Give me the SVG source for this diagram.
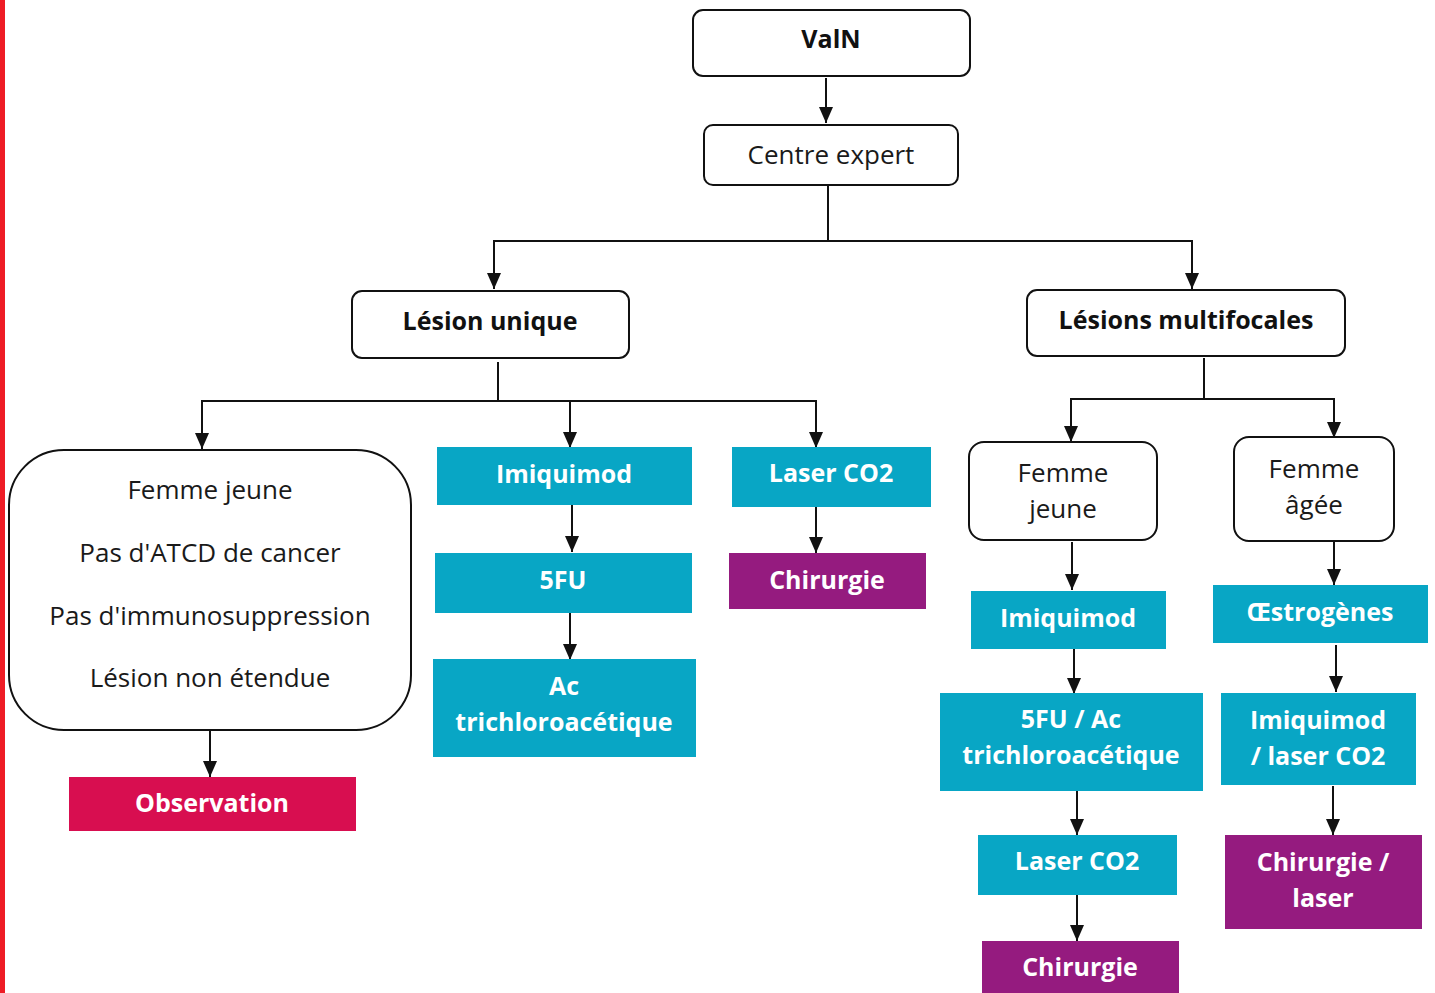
<svg xmlns="http://www.w3.org/2000/svg" width="1435" height="993" viewBox="0 0 1435 993">
  <style>
    .box { fill: #ffffff; stroke: #111111; stroke-width: 2; }
    .teal { fill: #08A6C5; }
    .purple { fill: #951B7F; }
    .pink { fill: #D80E50; }
    .t { font-family: "Open Sans", "Liberation Sans", sans-serif; font-size: 26px; text-anchor: middle; fill: #1a1a1a; }
    .b { font-size: 25px; font-weight: bold; fill: #111111; }
    .w { font-family: "Open Sans", "Liberation Sans", sans-serif; font-size: 25px; font-weight: bold; text-anchor: middle; fill: #ffffff; }
    .line { fill: none; stroke: #111111; stroke-width: 2; }
    .arrow { fill: none; stroke: #111111; stroke-width: 2; marker-end: url(#head); }
  </style>
  <defs>
    <marker id="head" markerUnits="userSpaceOnUse" markerWidth="16" markerHeight="14" refX="16" refY="7" orient="auto" viewBox="0 0 16 14">
      <path d="M0,0 L16,7 L0,14 Z" fill="#111111"/>
    </marker>
  </defs>

  <rect width="1435" height="993" fill="#ffffff"/>
  <!-- left accent bar -->
  <rect x="0" y="0" width="5" height="993" fill="#EE1C25"/>

  <!-- connectors -->
  <g id="connectors">
    <line class="arrow" x1="826" y1="78" x2="826" y2="123"/>
    <line class="line" x1="828" y1="185" x2="828" y2="241"/>
    <line class="line" x1="493" y1="241" x2="1193" y2="241"/>
    <line class="arrow" x1="494" y1="241" x2="494" y2="289"/>
    <line class="arrow" x1="1192" y1="241" x2="1192" y2="289"/>

    <line class="line" x1="498" y1="362" x2="498" y2="401"/>
    <line class="line" x1="201" y1="401" x2="817" y2="401"/>
    <line class="arrow" x1="202" y1="401" x2="202" y2="449"/>
    <line class="arrow" x1="570" y1="401" x2="570" y2="448"/>
    <line class="arrow" x1="816" y1="401" x2="816" y2="448"/>

    <line class="arrow" x1="210" y1="731" x2="210" y2="777"/>
    <line class="arrow" x1="572" y1="503" x2="572" y2="552"/>
    <line class="arrow" x1="570" y1="613" x2="570" y2="660"/>
    <line class="arrow" x1="816" y1="506" x2="816" y2="553"/>

    <line class="line" x1="1204" y1="358" x2="1204" y2="399"/>
    <line class="line" x1="1070" y1="399" x2="1335" y2="399"/>
    <line class="arrow" x1="1071" y1="399" x2="1071" y2="442"/>
    <line class="arrow" x1="1334" y1="399" x2="1334" y2="438"/>

    <line class="arrow" x1="1072" y1="542" x2="1072" y2="590"/>
    <line class="arrow" x1="1074" y1="648" x2="1074" y2="694"/>
    <line class="arrow" x1="1077" y1="787" x2="1077" y2="835"/>
    <line class="arrow" x1="1077" y1="892" x2="1077" y2="941"/>

    <line class="arrow" x1="1334" y1="537" x2="1334" y2="585"/>
    <line class="arrow" x1="1336" y1="645" x2="1336" y2="692"/>
    <line class="arrow" x1="1333" y1="786" x2="1333" y2="835"/>
  </g>

  <!-- top level -->
  <g id="valn">
    <rect class="box" x="693" y="10" width="277" height="66" rx="10"/>
    <text class="t b" x="831" y="48">ValN</text>
  </g>
  <g id="centre-expert">
    <rect class="box" x="704" y="125" width="254" height="60" rx="9"/>
    <text class="t" x="831" y="164">Centre expert</text>
  </g>

  <!-- single lesion branch -->
  <g id="lesion-unique">
    <rect class="box" x="352" y="291" width="277" height="67" rx="10"/>
    <text class="t b" x="490" y="330">Lésion unique</text>
  </g>
  <g id="criteres">
    <rect class="box" x="9" y="450" width="402" height="280" rx="55"/>
    <text class="t" x="210" y="499">Femme jeune</text>
    <text class="t" x="210" y="562">Pas d'ATCD de cancer</text>
    <text class="t" x="210" y="625">Pas d'immunosuppression</text>
    <text class="t" x="210" y="687">Lésion non étendue</text>
  </g>
  <g id="observation">
    <rect class="pink" x="69" y="777" width="287" height="54"/>
    <text class="w" x="212" y="812">Observation</text>
  </g>
  <g id="imiquimod-1">
    <rect class="teal" x="437" y="447" width="255" height="58"/>
    <text class="w" x="564" y="483">Imiquimod</text>
  </g>
  <g id="fu-1">
    <rect class="teal" x="435" y="553" width="257" height="60"/>
    <text class="w" x="563" y="589">5FU</text>
  </g>
  <g id="ac-1">
    <rect class="teal" x="433" y="659" width="263" height="98"/>
    <text class="w" x="564" y="695">Ac</text>
    <text class="w" x="564" y="731">trichloroacétique</text>
  </g>
  <g id="laser-1">
    <rect class="teal" x="732" y="447" width="199" height="60"/>
    <text class="w" x="831" y="482">Laser CO2</text>
  </g>
  <g id="chirurgie-1">
    <rect class="purple" x="729" y="553" width="197" height="56"/>
    <text class="w" x="827" y="589">Chirurgie</text>
  </g>

  <!-- multifocal branch -->
  <g id="lesions-multifocales">
    <rect class="box" x="1027" y="290" width="318" height="66" rx="10"/>
    <text class="t b" x="1186" y="329">Lésions multifocales</text>
  </g>
  <g id="femme-jeune">
    <rect class="box" x="969" y="442" width="188" height="98" rx="15"/>
    <text class="t" x="1063" y="482">Femme</text>
    <text class="t" x="1063" y="518">jeune</text>
  </g>
  <g id="femme-agee">
    <rect class="box" x="1234" y="437" width="160" height="104" rx="15"/>
    <text class="t" x="1314" y="478">Femme</text>
    <text class="t" x="1314" y="514">âgée</text>
  </g>
  <g id="imiquimod-2">
    <rect class="teal" x="971" y="591" width="195" height="58"/>
    <text class="w" x="1068" y="627">Imiquimod</text>
  </g>
  <g id="fu-ac-2">
    <rect class="teal" x="940" y="693" width="263" height="98"/>
    <text class="w" x="1071" y="728">5FU / Ac</text>
    <text class="w" x="1071" y="764">trichloroacétique</text>
  </g>
  <g id="laser-2">
    <rect class="teal" x="978" y="835" width="199" height="60"/>
    <text class="w" x="1077" y="870">Laser CO2</text>
  </g>
  <g id="chirurgie-2">
    <rect class="purple" x="982" y="941" width="197" height="52"/>
    <text class="w" x="1080" y="976">Chirurgie</text>
  </g>
  <g id="oestrogenes">
    <rect class="teal" x="1213" y="585" width="215" height="58"/>
    <text class="w" x="1320" y="621">Œstrogènes</text>
  </g>
  <g id="imiquimod-laser">
    <rect class="teal" x="1221" y="693" width="195" height="92"/>
    <text class="w" x="1318" y="729">Imiquimod</text>
    <text class="w" x="1318" y="765">/ laser CO2</text>
  </g>
  <g id="chirurgie-laser">
    <rect class="purple" x="1225" y="835" width="197" height="94"/>
    <text class="w" x="1323" y="871">Chirurgie /</text>
    <text class="w" x="1323" y="907">laser</text>
  </g>
</svg>
